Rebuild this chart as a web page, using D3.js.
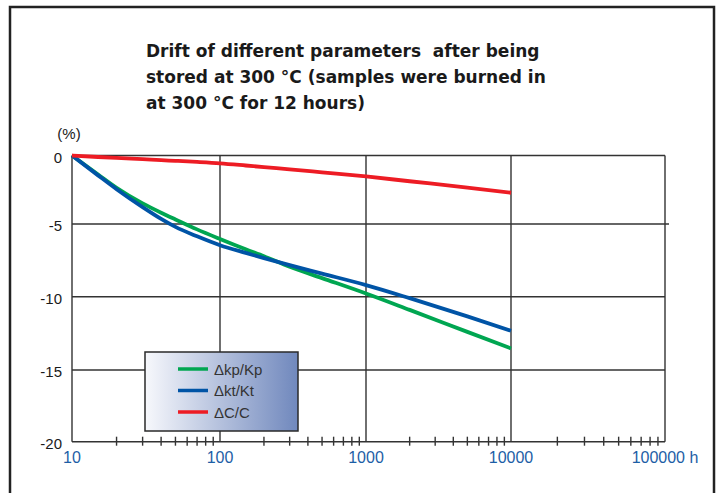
<!DOCTYPE html>
<html>
<head>
<meta charset="utf-8">
<script src="https://cdn.jsdelivr.net/npm/d3@7"></script>
<style>
  body { margin: 0; background: #fff; }
  svg { display: block; }
</style>
</head>
<body>
<svg id="chart"></svg>
<script>
// data (hours vs. drift in %)
var hours   = [10, 15, 20, 30, 40, 50, 70, 100, 150, 200, 300, 500, 1000, 2000, 5000, 10000];
var driftKp = [0, -1.39, -2.36, -3.50, -4.18, -4.67, -5.37, -6.03, -6.74, -7.22, -7.94, -8.72, -9.78, -10.90, -12.40, -13.53];
var driftKt = [0, -1.45, -2.46, -3.77, -4.63, -5.20, -5.85, -6.46, -6.99, -7.35, -7.83, -8.41, -9.20, -10.10, -11.34, -12.32];
var driftC  = [0, -0.11, -0.18, -0.27, -0.34, -0.39, -0.47, -0.57, -0.73, -0.85, -1.01, -1.23, -1.53, -1.88, -2.34, -2.72];

var seriesNames  = ["\u0394kp/Kp", "\u0394kt/Kt", "\u0394C/C"];
var seriesColors = ["#00a651", "#0054a6", "#ed1c24"];
var yTicks = [0, -5, -10, -15, -20];
var xTicks = [10, 100, 1000, 10000, 100000];
var titleLines = [
    "Drift of different parameters  after being",
    "stored at 300 \u00b0C (samples were burned in",
    "at 300 \u00b0C for 12 hours)"
];

var width = 723;
var height = 493;

var svg = d3.select("#chart")
    .attr("width", width)
    .attr("height", height);

// frame around the whole figure
svg.append("rect")
    .attr("x", 10).attr("y", 7)
    .attr("width", 704).attr("height", 500)
    .attr("fill", "none")
    .attr("stroke", "#222")
    .attr("stroke-width", 2.5);

// title
svg.append("text")
    .attr("font-family", "DejaVu Sans, sans-serif")
    .attr("font-weight", "bold")
    .attr("font-size", 17)
    .attr("fill", "#1a1a1a")
    .style("white-space", "pre")
    .selectAll("tspan")
    .data(titleLines)
    .enter().append("tspan")
    .attr("x", 146)
    .attr("y", function (d, i) { return 57 + i * 26; })
    .text(function (d) { return d; });

// scales (the printed grid is not quite even, so piecewise)
var x = d3.scaleLog().domain(xTicks).range([72, 220, 366, 511, 665]);
var y = d3.scaleLinear().domain(yTicks).range([155.5, 224, 296.7, 370, 441.7]);

var grid = svg.append("g").attr("stroke", "#333").attr("stroke-width", 1.4);

// horizontal grid lines
grid.selectAll("line.h")
    .data(yTicks)
    .enter().append("line")
    .attr("class", "h")
    .attr("x1", x(10)).attr("x2", function (d) { return d === -5 ? x(100000) + 4 : x(100000); })
    .attr("y1", function (d) { return y(d); })
    .attr("y2", function (d) { return y(d); });

// vertical grid lines
grid.selectAll("line.v")
    .data(xTicks)
    .enter().append("line")
    .attr("class", "v")
    .attr("x1", function (d) { return x(d); })
    .attr("x2", function (d) { return x(d); })
    .attr("y1", y(0)).attr("y2", y(-20));

// minor log ticks on the bottom axis
var minor = [];
[10, 100, 1000, 10000].forEach(function (dec) {
    for (var k = 2; k <= 9; k++) minor.push(dec * k);
});
grid.selectAll("line.m")
    .data(minor)
    .enter().append("line")
    .attr("class", "m")
    .attr("x1", function (d) { return x(d); })
    .attr("x2", function (d) { return x(d); })
    .attr("y1", y(-20) - 5).attr("y2", y(-20) + 4);

// y tick labels
svg.append("g")
    .selectAll("text")
    .data(yTicks)
    .enter().append("text")
    .attr("x", 62)
    .attr("y", function (d) { return y(d) + 7; })
    .attr("text-anchor", "end")
    .attr("font-family", "Liberation Sans, Arial, sans-serif")
    .attr("font-size", 15)
    .attr("fill", "#1a1a1a")
    .text(function (d) { return d; });

svg.append("text")
    .attr("x", 69).attr("y", 139)
    .attr("text-anchor", "middle")
    .attr("font-family", "Liberation Sans, Arial, sans-serif")
    .attr("font-size", 15)
    .attr("fill", "#1a1a1a")
    .text("(%)");

// x tick labels
svg.append("g")
    .selectAll("text")
    .data(xTicks)
    .enter().append("text")
    .attr("x", function (d) { return x(d); })
    .attr("y", 463)
    .attr("text-anchor", "middle")
    .attr("font-family", "Liberation Sans, Arial, sans-serif")
    .attr("font-size", 16)
    .attr("fill", "#1d5ea6")
    .text(function (d) { return d === 100000 ? d + " h" : d; });

// curves
var series = [driftKp, driftKt, driftC];
var line = d3.line()
    .x(function (d, i) { return x(hours[i]); })
    .y(function (d) { return y(d); })
    .curve(d3.curveMonotoneX);

svg.append("g")
    .selectAll("path")
    .data(series)
    .enter().append("path")
    .attr("d", line)
    .attr("fill", "none")
    .attr("stroke", function (d, i) { return seriesColors[i]; })
    .attr("stroke-width", 3.8);

// legend
var grad = svg.append("defs").append("linearGradient")
    .attr("id", "lg")
    .attr("x1", "0%").attr("x2", "100%")
    .attr("y1", "0%").attr("y2", "0%");
grad.append("stop").attr("offset", "0%").attr("stop-color", "#f7f8fc");
grad.append("stop").attr("offset", "100%").attr("stop-color", "#7088bd");

var legend = svg.append("g");
legend.append("rect")
    .attr("x", 145).attr("y", 352)
    .attr("width", 153).attr("height", 79)
    .attr("fill", "url(#lg)")
    .attr("stroke", "#2a2a2a")
    .attr("stroke-width", 1.5);

var items = legend.selectAll("g.item")
    .data(seriesNames)
    .enter().append("g")
    .attr("transform", function (d, i) { return "translate(0," + (369 + i * 21.5) + ")"; });

items.append("line")
    .attr("x1", 178).attr("x2", 208)
    .attr("y1", 0).attr("y2", 0)
    .attr("stroke", function (d, i) { return seriesColors[i]; })
    .attr("stroke-width", 3.5);

items.append("text")
    .attr("x", 214).attr("y", 5.5)
    .attr("font-family", "Liberation Sans, Arial, sans-serif")
    .attr("font-size", 15)
    .attr("fill", "#333")
    .text(function (d) { return d; });
</script>
</body>
</html>
